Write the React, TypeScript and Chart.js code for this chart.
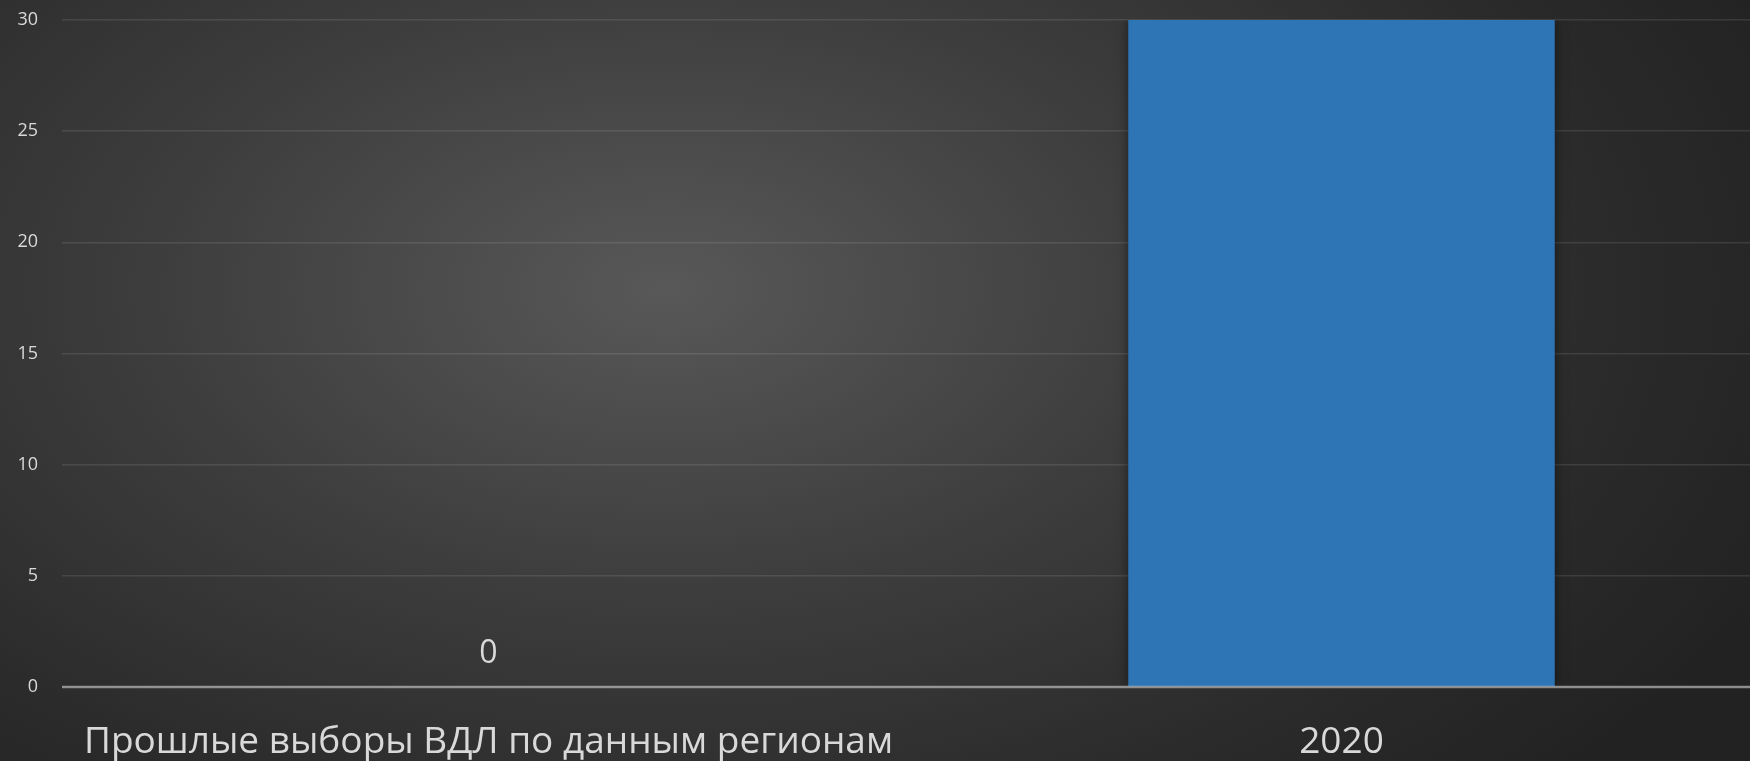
import React, { useEffect, useRef } from "react";
import { Chart, registerables } from "chart.js";

Chart.register(...registerables);

const categories: string[] = ["Прошлые выборы ВДЛ по данным регионам", "2020"];
const seriesValues: number[] = [0, 30];
const yTicks: number[] = [0, 5, 10, 15, 20, 25, 30];

const TEXT = "#d9d9d9";
const FONT = "'Open Sans', 'Noto Sans', sans-serif";

const overlayPlugin = {
  id: "overlay",
  beforeDatasetsDraw(chart: any) {
    const ctx = chart.ctx;
    ctx.save();
    ctx.shadowColor = "rgba(0,0,0,0.5)";
    ctx.shadowBlur = 10;
  },
  afterDatasetsDraw(chart: any) {
    const ctx = chart.ctx;
    ctx.restore();
    const yScale = chart.scales.y;
    const area = chart.chartArea;
    const y0 = yScale.getPixelForValue(0);
    ctx.save();
    ctx.strokeStyle = "rgba(217,217,217,0.55)";
    ctx.lineWidth = 2.5;
    ctx.beginPath();
    ctx.moveTo(area.left, y0);
    ctx.lineTo(chart.width, y0);
    ctx.stroke();
    ctx.restore();

    const meta = chart.getDatasetMeta(0);
    ctx.save();
    ctx.fillStyle = TEXT;
    ctx.font = `32px ${FONT}`;
    ctx.textAlign = "center";
    ctx.textBaseline = "alphabetic";
    meta.data.forEach((bar: any, i: number) => {
      ctx.fillText(String(seriesValues[i]), bar.x, bar.y - 24);
    });
    ctx.restore();
  },
};

export default function App() {
  const canvasRef = useRef<HTMLCanvasElement | null>(null);

  useEffect(() => {
    if (!canvasRef.current) return;
    const chart = new Chart(canvasRef.current, {
      type: "bar",
      data: {
        labels: categories,
        datasets: [
          {
            data: seriesValues,
            backgroundColor: "#2e75b6",
            borderWidth: 0,
            categoryPercentage: 1,
            barPercentage: 0.5,
          },
        ],
      },
      options: {
        animation: false,
        responsive: true,
        maintainAspectRatio: false,
        layout: { padding: { top: 20, right: 12, left: 0, bottom: 0 } },
        plugins: {
          legend: { display: false },
          tooltip: { enabled: false },
          title: { display: false },
        },
        scales: {
          x: {
            grid: { display: false, drawTicks: false },
            border: { display: false },
            ticks: {
              color: TEXT,
              font: { family: FONT, size: 37 },
              padding: 33,
              maxRotation: 0,
              autoSkip: false,
            },
            afterFit: (scale: any) => {
              scale.height = 74;
            },
          },
          y: {
            min: 0,
            max: 30,
            afterBuildTicks: (scale: any) => {
              scale.ticks = yTicks.map((v) => ({ value: v }));
            },
            grid: {
              color: "rgba(255,255,255,0.1)",
              lineWidth: 1.5,
              drawTicks: false,
            },
            border: { display: false },
            ticks: {
              color: TEXT,
              font: { family: FONT, size: 18 },
              padding: 24,
            },
            afterFit: (scale: any) => {
              scale.width = 62;
              scale.paddingTop = 0;
              scale.paddingBottom = 0;
            },
          },
        },
      },
      plugins: [overlayPlugin],
    });
    return () => chart.destroy();
  }, []);

  return (
    <div
      style={{
        position: "fixed",
        left: 0,
        top: 0,
        width: 1750,
        height: 761,
        overflow: "hidden",
        background:
          "radial-gradient(ellipse 70% 95% at 38% 38%, #585858 0%, #3d3d3d 42%, #2a2a2a 78%, #222222 100%)",
      }}
    >
      <div style={{ position: "relative", width: 1780, height: 761 }}>
        <canvas ref={canvasRef} />
      </div>
    </div>
  );
}
